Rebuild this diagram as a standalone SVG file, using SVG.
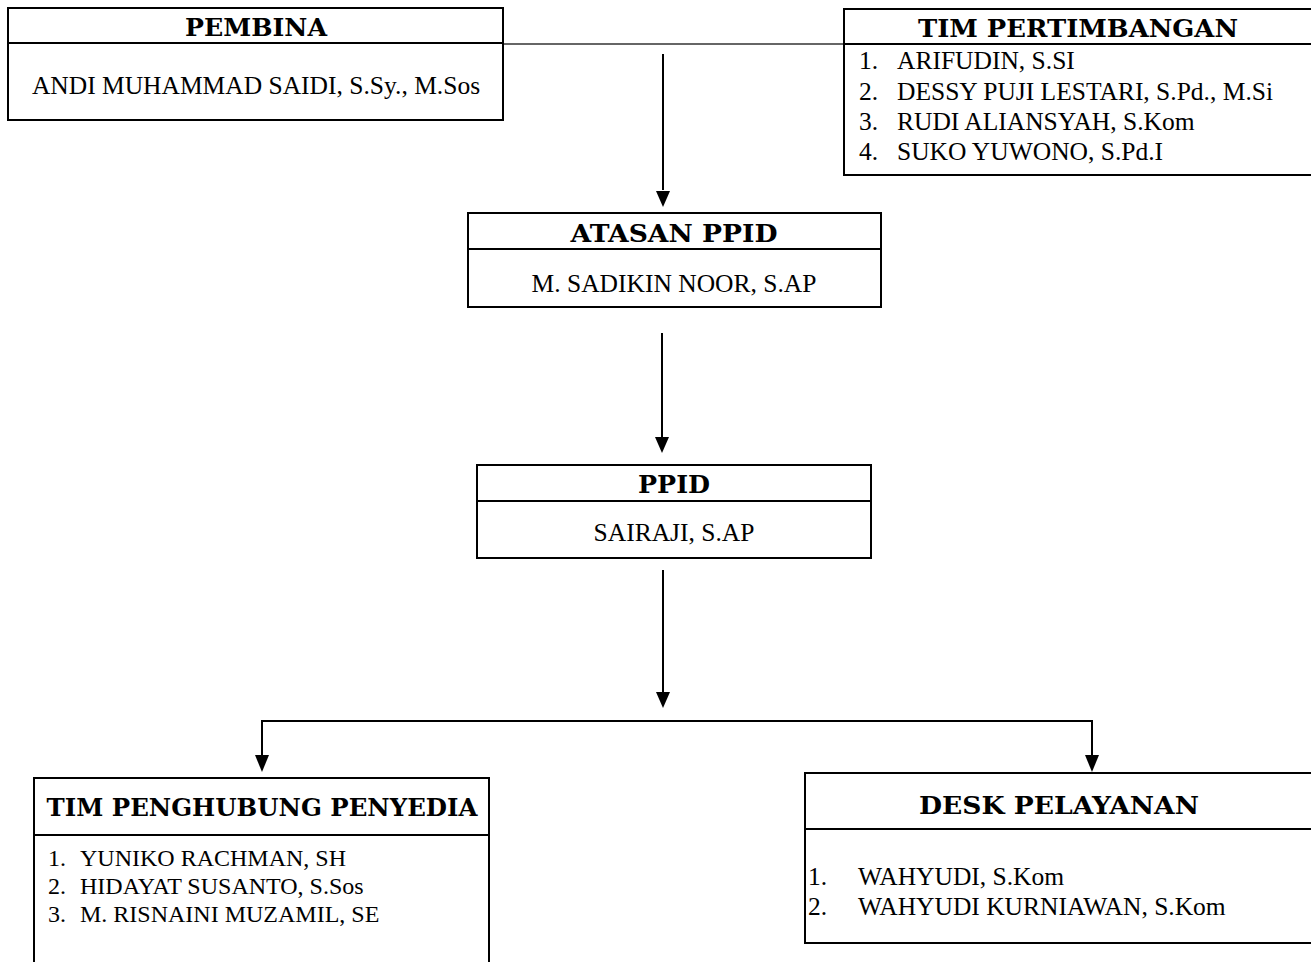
<svg xmlns="http://www.w3.org/2000/svg" width="1311" height="962" viewBox="0 0 1311 962">
<style>
.box{fill:#fff;stroke:#000;stroke-width:2}
.div{stroke:#000;stroke-width:2}
.conn{stroke:#000;stroke-width:2;fill:none}
.title{font-family:"DejaVu Serif",serif;font-weight:bold;font-size:25px;fill:#000;text-anchor:middle}
.body{font-family:"Liberation Serif",serif;font-size:25.5px;fill:#000}
.sm{font-size:24px}
.c{text-anchor:middle}
</style>
<rect width="1311" height="962" fill="#fff"/>
<g id="connectors">
<line x1="504" y1="44" x2="844" y2="44" stroke="#333" stroke-width="1.6"/>
<line class="conn" x1="663" y1="54" x2="663" y2="190"/>
<path d="M656,191 L670,191 L663,207 Z"/>
<line class="conn" x1="662" y1="333" x2="662" y2="437"/>
<path d="M655,437 L669,437 L662,453 Z"/>
<line class="conn" x1="663" y1="570" x2="663" y2="693"/>
<path d="M656,692 L670,692 L663,708 Z"/>
<polyline class="conn" points="262,756 262,721 1092,721 1092,756"/>
<path d="M255,755 L269,755 L262,772 Z"/>
<path d="M1085,755 L1099,755 L1092,772 Z"/>
</g>
<g id="pembina">
<rect class="box" x="8" y="8" width="495" height="112"/>
<line class="div" x1="8" y1="43" x2="503" y2="43"/>
<text class="title" x="256" y="36" textLength="142" lengthAdjust="spacingAndGlyphs">PEMBINA</text>
<text class="body c" x="256" y="94">ANDI MUHAMMAD SAIDI, S.Sy., M.Sos</text>
</g>
<g id="tim-pertimbangan">
<rect class="box" x="844" y="9" width="470" height="166"/>
<line class="div" x1="844" y1="44" x2="1314" y2="44"/>
<text class="title" x="1078" y="37" textLength="320" lengthAdjust="spacingAndGlyphs">TIM PERTIMBANGAN</text>
<text class="body" x="859" y="69">1.</text><text class="body" x="897" y="69">ARIFUDIN, S.SI</text>
<text class="body" x="859" y="100">2.</text><text class="body" x="897" y="100">DESSY PUJI LESTARI, S.Pd., M.Si</text>
<text class="body" x="859" y="130">3.</text><text class="body" x="897" y="130">RUDI ALIANSYAH, S.Kom</text>
<text class="body" x="859" y="160">4.</text><text class="body" x="897" y="160">SUKO YUWONO, S.Pd.I</text>
</g>
<g id="atasan-ppid">
<rect class="box" x="468" y="213" width="413" height="94"/>
<line class="div" x1="468" y1="249" x2="881" y2="249"/>
<text class="title" x="674" y="242" textLength="207" lengthAdjust="spacingAndGlyphs">ATASAN PPID</text>
<text class="body c" x="674" y="292">M. SADIKIN NOOR, S.AP</text>
</g>
<g id="ppid">
<rect class="box" x="477" y="465" width="394" height="93"/>
<line class="div" x1="477" y1="501" x2="871" y2="501"/>
<text class="title" x="674" y="493" textLength="72" lengthAdjust="spacingAndGlyphs">PPID</text>
<text class="body c" x="674" y="541">SAIRAJI, S.AP</text>
</g>
<g id="tim-penghubung">
<rect class="box" x="34" y="778" width="455" height="200"/>
<line class="div" x1="34" y1="835" x2="489" y2="835"/>
<text class="title" x="262" y="816" textLength="431" lengthAdjust="spacingAndGlyphs">TIM PENGHUBUNG PENYEDIA</text>
<text class="body sm" x="48" y="866">1.</text><text class="body sm" x="80" y="866">YUNIKO RACHMAN, SH</text>
<text class="body sm" x="48" y="894">2.</text><text class="body sm" x="80" y="894">HIDAYAT SUSANTO, S.Sos</text>
<text class="body sm" x="48" y="922">3.</text><text class="body sm" x="80" y="922">M. RISNAINI MUZAMIL, SE</text>
</g>
<g id="desk-pelayanan">
<rect class="box" x="805" y="773" width="510" height="170"/>
<line class="div" x1="805" y1="829" x2="1315" y2="829"/>
<text class="title" x="1059" y="814" textLength="280" lengthAdjust="spacingAndGlyphs">DESK PELAYANAN</text>
<text class="body" x="808" y="885">1.</text><text class="body" x="858" y="885">WAHYUDI, S.Kom</text>
<text class="body" x="808" y="915">2.</text><text class="body" x="858" y="915">WAHYUDI KURNIAWAN, S.Kom</text>
</g>
</svg>
